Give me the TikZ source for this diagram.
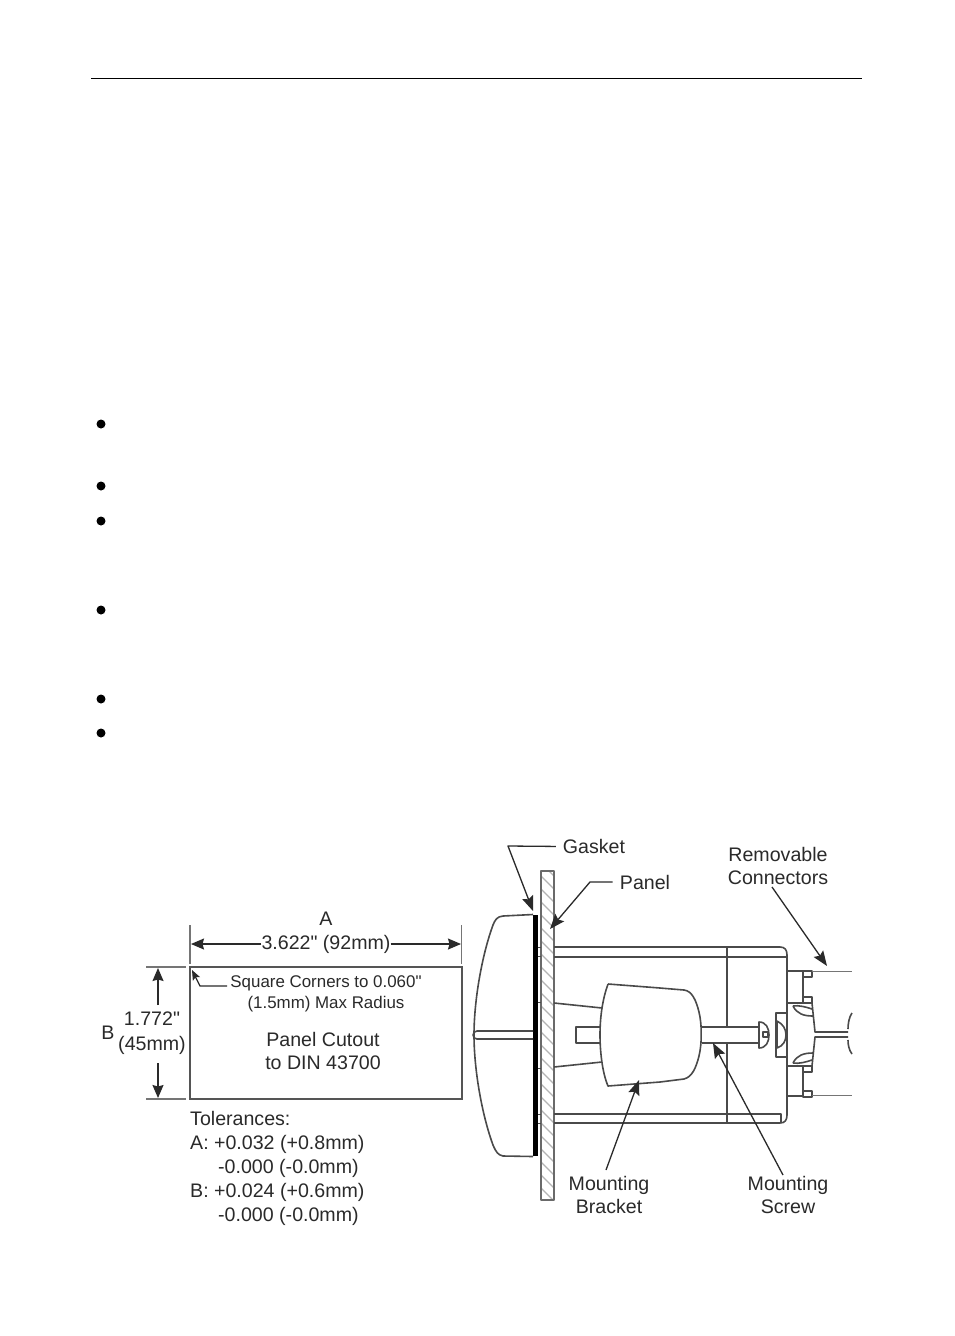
\documentclass[tikz,border=0pt]{standalone}
\usepackage{fontspec}
\setmainfont{Liberation Sans}
\newfontfamily\plainqf{Liberation Sans}
\usetikzlibrary{arrows.meta}
\definecolor{ink}{HTML}{2A2A2A}
\definecolor{hatch}{HTML}{B4B4B4}
\newcommand{\qt}{{\plainqf\symbol{34}}}
\tikzset{
  lbl/.style={text=ink,font=\fontsize{19.6}{23.6}\selectfont,inner sep=0pt,align=center},
  lblsm/.style={text=ink,font=\fontsize{16.9}{21}\selectfont,inner sep=0pt,align=center},
  lblleft/.style={text=ink,font=\fontsize{19.6}{23.6}\selectfont,inner sep=0pt,anchor=base west},
  ln/.style={draw=ink!85,line width=1.6pt,line join=round},
  thin line/.style={draw=ink!65,line width=1.1pt},
  lead/.style={draw=ink,line width=1.3pt,line join=round,-{Stealth[length=15pt,width=11.5pt,inset=2.5pt]}},
  dim/.style={draw=ink,line width=1.3pt,-{Stealth[length=13pt,width=11pt,inset=1.5pt]}},
  bul/.style={circle,fill=black,minimum size=9pt,inner sep=0pt},
}
\begin{document}
\begin{tikzpicture}[x=1pt,y=-1pt]
\useasboundingbox (0,0) rectangle (954,1336);
\fill[white] (0,0) rectangle (954,1336);
% header
\coordinate (hl) at (91,78); \coordinate (hr) at (862,78);
\draw[black,line width=1pt] (hl) -- (hr);
% bullets
\foreach \n/\y in {a/424,b/486,c/521,d/610,e/699,f/733}
  \node[bul] (bul\n) at (101,\y) {};

% ---- cutout
\node[draw=ink!80,line width=1.6pt,minimum width=272pt,minimum height=132pt,inner sep=0pt] (cut) at (326,1033) {};
\coordinate (exAt) at (190,925); \coordinate (exAb) at (190,964);
\coordinate (exBt) at (461.5,925); \coordinate (exBb) at (461.5,964);
\draw[thin line] (exAt) -- (exAb); \draw[thin line] (exBt) -- (exBb);
\coordinate (exCl) at (146,967); \coordinate (exCr) at (186,967);
\coordinate (exDl) at (146,1099); \coordinate (exDr) at (186,1099);
\draw[thin line] (exCl) -- (exCr); \draw[thin line] (exDl) -- (exDr);
\node[lbl] (labA) at (326,919) {A};
\node[lbl] (dimA) at (326,944) {3.622\qt{} (92mm)};
\coordinate (dimAl) at (191,944); \coordinate (dimAr) at (461,944);
\draw[dim] (dimA.west) -- (dimAl); \draw[dim] (dimA.east) -- (dimAr);
\node[lbl] (labB) at (108,1033) {B};
\node[lbl] (dimB) at (152,1033) {1.772\qt\\[1pt](45mm)};
\coordinate (dimBt) at (158,968); \coordinate (dimBb) at (158,1098);
\coordinate (dimBa) at (158,1005); \coordinate (dimBc) at (158,1063);
\draw[dim] (dimBa) -- (dimBt); \draw[dim] (dimBc) -- (dimBb);
\node[lblsm] (sq1) at (326,983.5) {Square Corners to 0.060\qt};
\node[lblsm] (sq2) at (326,1004) {(1.5mm) Max Radius};
\coordinate (sqa) at (227,986); \coordinate (sqb) at (200,986); \coordinate (sqt) at (192,970);
\draw[draw=ink,line width=1.2pt,-{Stealth[length=10pt,width=8pt,inset=2pt]}] (sqa) -- (sqb) -- (sqt);
\node[lbl] (pc) at (323,1051) {Panel Cutout\\to DIN 43700};
\node[lblleft] (t1) at (190,1125) {Tolerances:};
\node[lblleft] (t2) at (190,1149) {A: +0.032 (+0.8mm)};
\node[lblleft] (t3) at (218,1173) {-0.000 (-0.0mm)};
\node[lblleft] (t4) at (190,1197) {B: +0.024 (+0.6mm)};
\node[lblleft] (t5) at (218,1221) {-0.000 (-0.0mm)};

% ---- panel with hatching
\begin{scope}
  \clip (541,871) rectangle (554,1200);
  \foreach \k in {860,873,...,1200}
    \draw[hatch,line width=1.2pt] (538,\k) -- (558,\k+20);
\end{scope}
\draw[ln,draw=ink!70] (541,871) rectangle (554,1200);
% gasket
\fill[black] (533,915) rectangle (538,1156);
% lens
\draw[ln] (533,914.5) -- (503,916) .. controls (497,916.5) and (495,920) .. (493,925)
  .. controls (482,955) and (474,1000) .. (474,1035)
  .. controls (474,1070) and (482,1115) .. (493,1145)
  .. controls (496,1152) and (498,1155) .. (503,1156) -- (533,1156.5);
\draw[ln] (533,1031) -- (477,1031) arc[start angle=-90,end angle=-270,radius=4] -- (533,1039);
% small ticks between gasket and panel
\foreach \y in {947,956,1002,1068,1114,1123}
  \draw[ln,line width=1pt] (538,\y) -- (541,\y);
% body
\draw[ln] (554,947) -- (780,947) .. controls (785,947) and (787,950) .. (787,955) -- (787,1115) .. controls (787,1120) and (785,1123) .. (780,1123) -- (554,1123);
\draw[ln] (554,957) -- (787,957);
\draw[ln] (554,1114) -- (781,1114) -- (781,1123);
\draw[ln] (727,947) -- (727,1123);
% bracket
\draw[ln,fill=white] (608,984) -- (660,988) -- (684,990) .. controls (692,991) and (696,1000) .. (699,1012)
  .. controls (702,1024) and (702,1044) .. (699,1056)
  .. controls (696,1068) and (692,1077) .. (684,1079) -- (660,1082) -- (608,1086)
  .. controls (602,1072) and (600,1050) .. (600,1035)
  .. controls (600,1015) and (603,998) .. (608,984);
\draw[ln] (554,1003) -- (602,1008);
\draw[ln] (554,1067) -- (602,1062);
% screw
\draw[ln] (600,1027) -- (576,1027) -- (576,1043) -- (600,1043);
\fill[white] (702,1027) rectangle (760,1043);
\draw[ln] (702,1027) -- (760,1027);
\draw[ln] (702,1043) -- (760,1043);
\draw[ln,fill=white] (759,1022) .. controls (766,1022) and (769,1028) .. (769,1035) .. controls (769,1042) and (766,1048) .. (759,1048) -- cycle;
\draw[ln,line width=1.1pt] (763,1032) rectangle (768,1037);
% wall block
\draw[ln] (787,1013) -- (776,1013) -- (776,1057) -- (787,1057);
\draw[ln] (777,1021) .. controls (783,1024) and (786,1029) .. (786,1035) .. controls (786,1041) and (783,1046) .. (777,1048) -- cycle;
% connectors
\draw[ln] (787,971) -- (803,971) -- (803,1003);
\draw[ln] (787,1096) -- (803,1096) -- (803,1066);
\draw[ln] (787,1003) -- (803,1003);
\draw[ln] (787,1066) -- (803,1066);
\draw[ln,fill=white] (803,971) rectangle (812,977);
\draw[ln,fill=white] (803,997) rectangle (812,1003);
\draw[ln,fill=white] (803,1066) rectangle (812,1072);
\draw[ln,fill=white] (803,1091) rectangle (812,1097);
\draw[thin line] (812,971.5) -- (852,971.5);
\draw[thin line] (812,1095.5) -- (852,1095.5);
% centre plug
\draw[ln] (812,1003) -- (815,1032) -- (848,1032);
\draw[ln] (812,1066) -- (815,1037) -- (848,1037);
\draw[ln] (852,1013) .. controls (849,1017) and (848,1024) .. (848,1029);
\draw[ln] (852,1054) .. controls (849,1050) and (848,1045) .. (848,1040);
% clips
\draw[ln] (793,1006) .. controls (797,1014) and (804,1016) .. (813,1016);
\draw[ln] (793,1006) .. controls (799,1005) and (806,1007) .. (812,1009);
\draw[ln] (793,1063) .. controls (797,1055) and (804,1053) .. (813,1053);
\draw[ln] (793,1063) .. controls (799,1064) and (806,1062) .. (812,1060);

% ---- labels and leaders
\node[lbl] (gasket) at (594,846.5) {Gasket};
\coordinate (gk) at (508,846); \coordinate (gt) at (533,911);
\draw[lead,shorten <=7pt] (gasket.west) -- (gk) -- (gt);
\node[lbl] (panel) at (645,882.5) {Panel};
\coordinate (pk) at (590,882); \coordinate (pt) at (550,929);
\draw[lead,shorten <=7pt] (panel.west |- pk) -- (pk) -- (pt);
\node[lbl] (rem) at (778,866) {Removable\\Connectors};
\coordinate (rs) at (772,887); \coordinate (rt) at (827,966);
\draw[lead] (rs) -- (rt);
\node[lbl] (mb) at (609,1195) {Mounting\\Bracket};
\coordinate (mbs) at (606,1170); \coordinate (mbt) at (639,1080);
\draw[lead] (mbs) -- (mbt);
\node[lbl] (ms) at (788,1195) {Mounting\\Screw};
\coordinate (mss) at (783,1175); \coordinate (mst) at (713,1043);
\draw[lead] (mss) -- (mst);
\end{tikzpicture}
\end{document}
